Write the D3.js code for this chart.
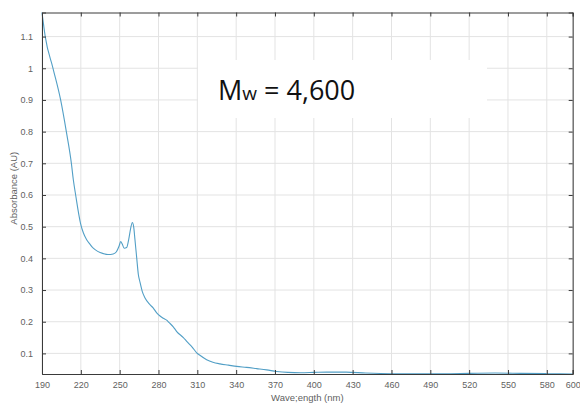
<!DOCTYPE html>
<html>
<head>
<meta charset="utf-8">
<script src="https://cdn.jsdelivr.net/npm/d3@7/dist/d3.min.js"></script>
<style>
  html, body { margin: 0; padding: 0; background: #fff; }
  svg { display: block; }
</style>
</head>
<body>
<svg id="chart" width="580" height="406"></svg>
<script>
// ---- data ----
const wavelength = [190, 192.5, 198.5, 204.4, 208.8, 212.7, 214.2, 216, 219.8, 222, 224.5, 227, 229.6, 233, 237.4, 241, 245, 247.5, 249.5, 250.8, 252, 253.5, 255.4, 257, 258.5, 259.8, 260.8, 261.8, 263.2, 264.4, 265.7, 267.5, 269.6, 273.4, 276, 278.6, 281.2, 283.7, 286.3, 288, 291.4, 294.1, 299.2, 301.8, 306, 309.5, 312, 317.2, 322, 327.5, 334, 340.4, 348, 355.9, 363.6, 371.3, 380, 390, 400, 410, 425, 440, 460, 480, 500, 520, 540, 560, 580, 600];
const absorbance = [1.176, 1.10, 1.00, 0.90, 0.80, 0.70, 0.648, 0.60, 0.51, 0.48, 0.459, 0.445, 0.432, 0.422, 0.415, 0.412, 0.414, 0.421, 0.438, 0.453, 0.445, 0.432, 0.434, 0.46, 0.495, 0.513, 0.50, 0.46, 0.40, 0.35, 0.325, 0.295, 0.275, 0.254, 0.243, 0.228, 0.218, 0.211, 0.205, 0.198, 0.184, 0.169, 0.150, 0.138, 0.12, 0.102, 0.094, 0.080, 0.072, 0.067, 0.063, 0.059, 0.056, 0.052, 0.048, 0.043, 0.040, 0.039, 0.040, 0.041, 0.041, 0.038, 0.036, 0.036, 0.036, 0.037, 0.038, 0.037, 0.036, 0.035];
const xTicks = [190, 220, 250, 280, 310, 340, 370, 400, 430, 460, 490, 520, 550, 580, 600];
const yTicks = [0.1, 0.2, 0.3, 0.4, 0.5, 0.6, 0.7, 0.8, 0.9, 1, 1.1];
const xDomain = [190, 600];
const yDomain = [0.035, 1.176];
const xLabel = "Wave;ength (nm)";
const yLabel = "Absorbance (AU)";
const annotationMain = "M";
const annotationSub = "w";
const annotationRest = " = 4,600";

(function () {
// ---- layout ----
const margin = { left: 42, top: 12.5, right: 7.3, bottom: 32 };
const W = 580, H = 406;
const svg = d3.select("#chart");
const x = d3.scaleLinear().domain(xDomain).range([margin.left, W - margin.right]);
const y = d3.scaleLinear().domain(yDomain).range([H - margin.bottom, margin.top]);

const gridColor = "#e3e3e3";
const axisColor = "#3a3a3a";
const labelColor = "#5f5f5f";
const fontFam = "'Liberation Sans', Arial, Helvetica, sans-serif";

// grid
svg.append("g").selectAll("line").data(xTicks).join("line")
  .attr("x1", d => x(d)).attr("x2", d => x(d))
  .attr("y1", y.range()[1]).attr("y2", y.range()[0])
  .attr("stroke", gridColor).attr("stroke-width", 1);
svg.append("g").selectAll("line").data(yTicks).join("line")
  .attr("y1", d => y(d)).attr("y2", d => y(d))
  .attr("x1", x.range()[0]).attr("x2", x.range()[1])
  .attr("stroke", gridColor).attr("stroke-width", 1);

// white annotation box
svg.append("rect")
  .attr("x", 198).attr("y", 60).attr("width", 289).attr("height", 58)
  .attr("fill", "#fff");

// line
const line = d3.line()
  .x((d, i) => x(wavelength[i]))
  .y((d, i) => y(absorbance[i]))
  .curve(d3.curveMonotoneX);
svg.append("path")
  .datum(absorbance)
  .attr("d", line)
  .attr("fill", "none")
  .attr("stroke", "#529fc6")
  .attr("stroke-width", 1.1);

// axes (MATLAB-style: ticks inward, box)
const tickLen = 4;
const gBottom = svg.append("g").attr("transform", `translate(0,${y.range()[0]})`)
  .call(d3.axisBottom(x).tickValues(xTicks).tickSize(-tickLen).tickPadding(8).tickFormat(d3.format("d")));
const gTop = svg.append("g").attr("transform", `translate(0,${y.range()[1]})`)
  .call(d3.axisTop(x).tickValues(xTicks).tickSize(-tickLen).tickFormat(""));
const gLeft = svg.append("g").attr("transform", `translate(${x.range()[0]},0)`)
  .call(d3.axisLeft(y).tickValues(yTicks).tickSize(-tickLen).tickPadding(9).tickFormat(d => String(+d.toFixed(1))));
const gRight = svg.append("g").attr("transform", `translate(${x.range()[1]},0)`)
  .call(d3.axisRight(y).tickValues(yTicks).tickSize(-tickLen).tickFormat(""));

[gBottom, gTop, gLeft, gRight].forEach(g => {
  g.select(".domain").attr("stroke", axisColor).attr("stroke-width", 1);
  g.selectAll(".tick line").attr("stroke", axisColor);
  g.selectAll(".tick text").attr("fill", labelColor).style("font-family", fontFam).style("font-size", "9px");
});

// axis labels
svg.append("text")
  .attr("x", (x.range()[0] + x.range()[1]) / 2)
  .attr("y", 401)
  .attr("text-anchor", "middle")
  .attr("fill", labelColor)
  .style("font-family", fontFam).style("font-size", "9.5px")
  .text(xLabel);
svg.append("text")
  .attr("transform", `translate(17,${(y.range()[0] + y.range()[1]) / 2 - 5}) rotate(-90)`)
  .attr("text-anchor", "middle")
  .attr("fill", labelColor)
  .style("font-family", fontFam).style("font-size", "9.5px")
  .text(yLabel);

// annotation
const ann = svg.append("text")
  .attr("x", 218).attr("y", 100)
  .attr("fill", "#111")
  .style("font-family", "'Open Sans', 'Noto Sans', sans-serif")
  .style("font-size", "27px");
ann.append("tspan").text(annotationMain);
ann.append("tspan").style("font-size", "19px").text(annotationSub);
ann.append("tspan").text(annotationRest);
})();
</script>
</body>
</html>
